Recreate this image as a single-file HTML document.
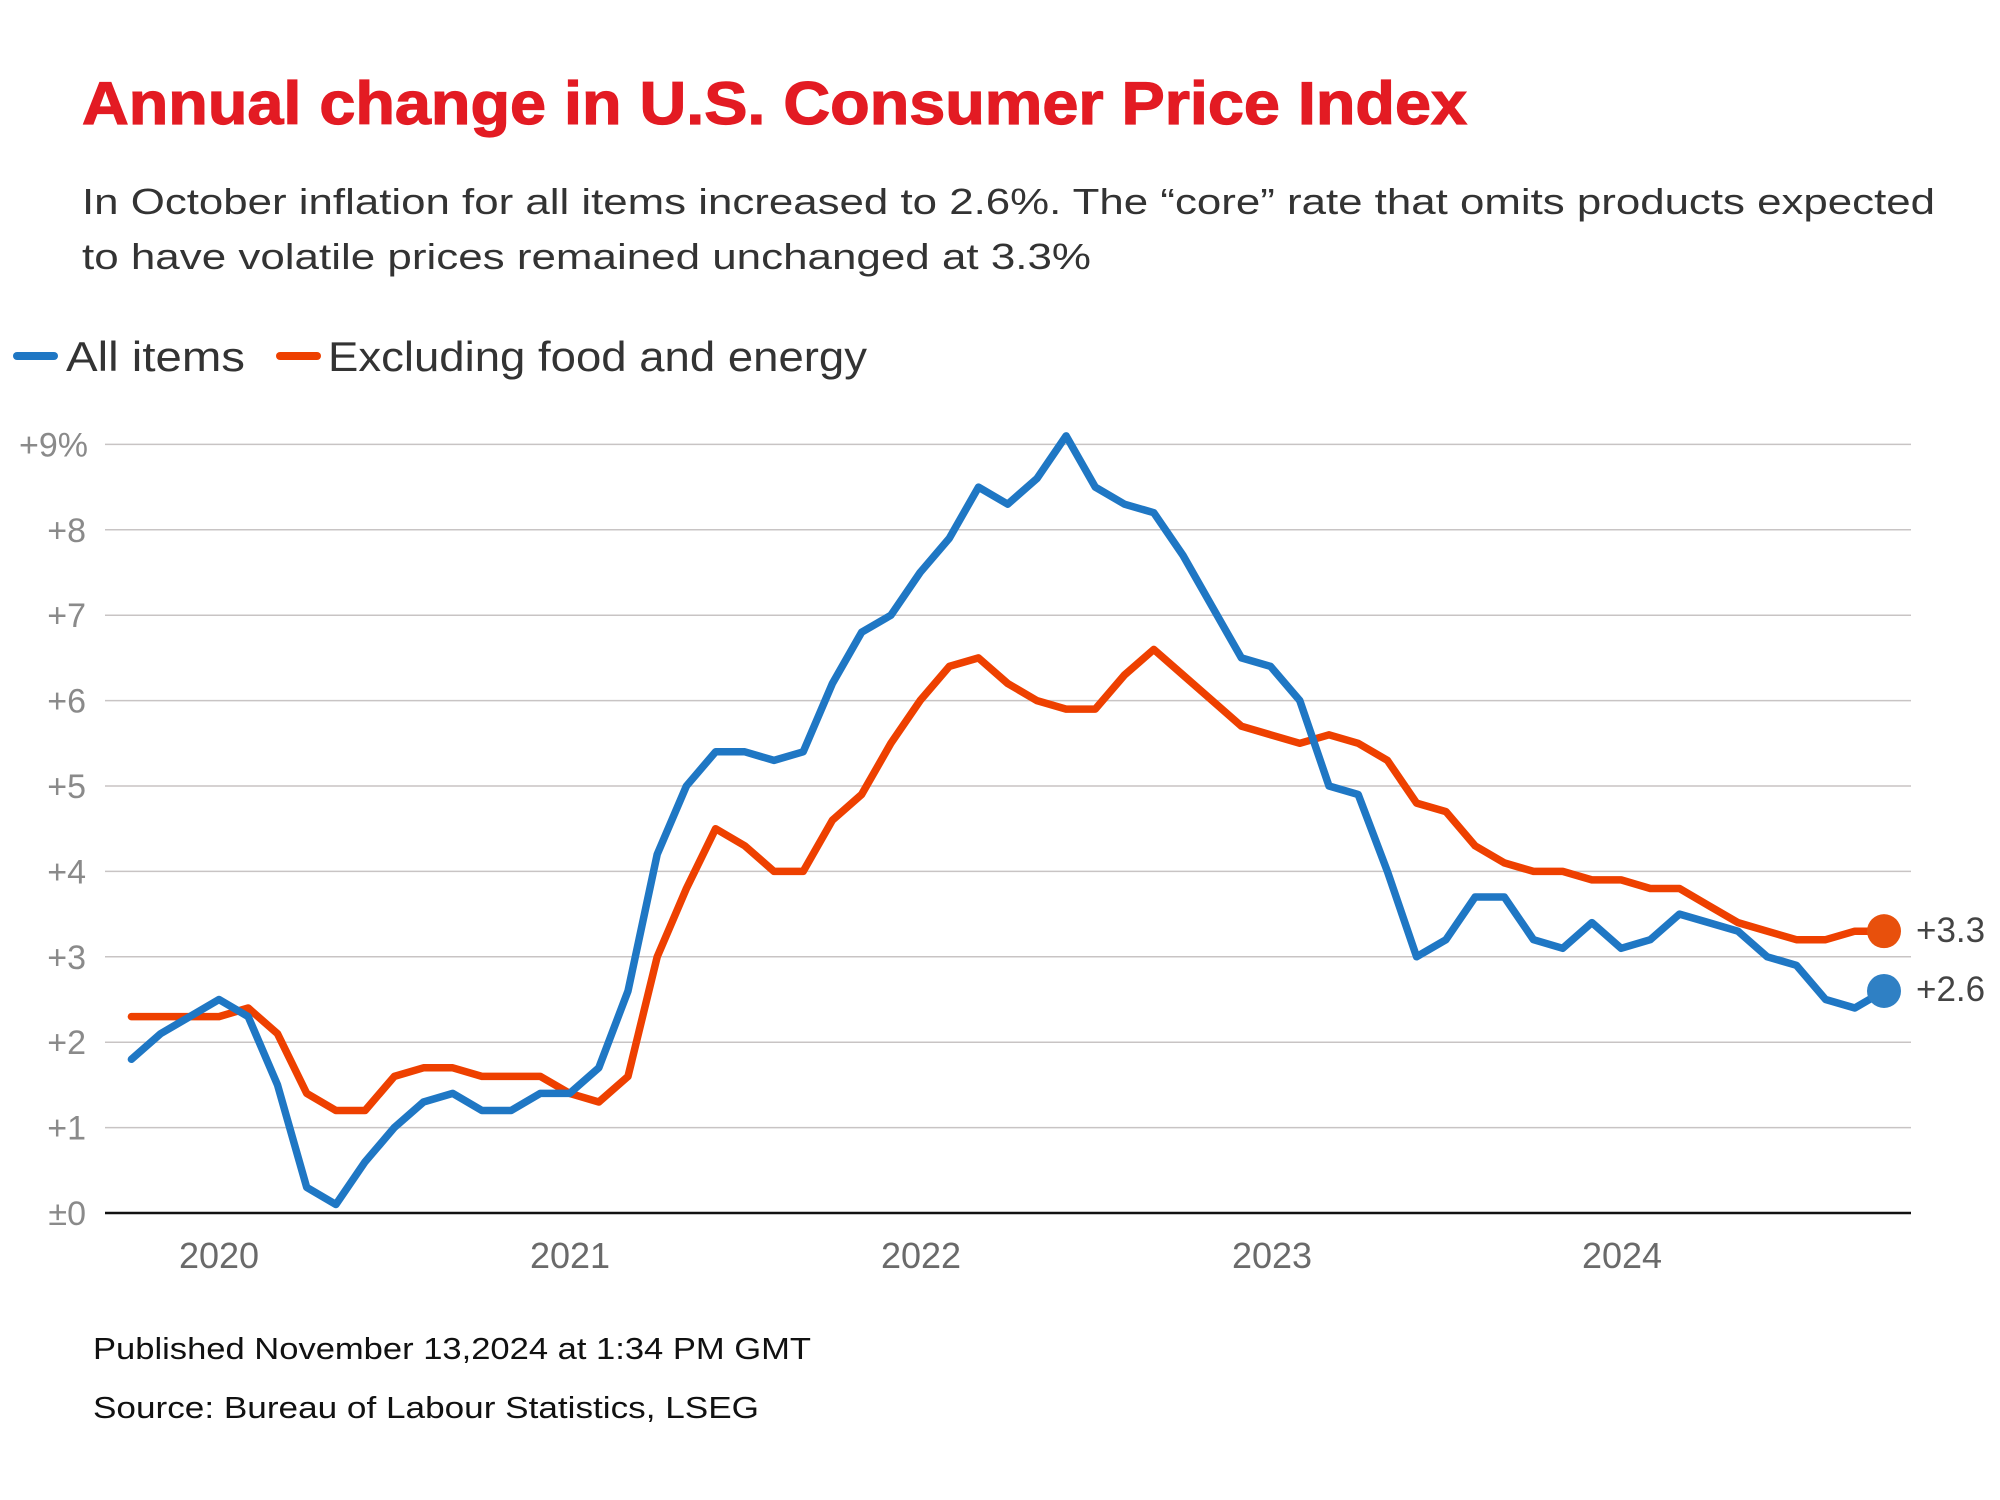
<!DOCTYPE html>
<html><head><meta charset="utf-8"><style>
html,body{margin:0;padding:0;background:#fff;width:2000px;height:1500px;overflow:hidden}
svg{display:block}
text{font-family:"Liberation Sans",sans-serif}
</style></head><body>
<svg id="s" width="2000" height="1500" viewBox="0 0 2000 1500" xmlns="http://www.w3.org/2000/svg">
<text x="82" y="124" font-size="60" font-weight="bold" fill="#e31b23" stroke="#e31b23" stroke-width="1.2" textLength="1385" lengthAdjust="spacingAndGlyphs">Annual change in U.S. Consumer Price Index</text>
<text x="82" y="214" font-size="36" fill="#333" textLength="1853" lengthAdjust="spacingAndGlyphs">In October inflation for all items increased to 2.6%. The “core” rate that omits products expected</text>
<text x="82" y="269" font-size="36" fill="#333" textLength="1009" lengthAdjust="spacingAndGlyphs">to have volatile prices remained unchanged at 3.3%</text>
<line x1="17" y1="356" x2="54" y2="356" stroke="#1f77c4" stroke-width="8" stroke-linecap="round"/>
<text x="66" y="371" font-size="42" fill="#333" textLength="179" lengthAdjust="spacingAndGlyphs">All items</text>
<line x1="280" y1="356" x2="317" y2="356" stroke="#ee4000" stroke-width="8" stroke-linecap="round"/>
<text x="328" y="371" font-size="42" fill="#333" textLength="539" lengthAdjust="spacingAndGlyphs">Excluding food and energy</text>
<g id="grid" stroke="#c8c4c4" stroke-width="1.5"></g>
<g id="yl" font-size="34" fill="#8a8a8a" text-anchor="end"></g>
<line x1="105" y1="1213" x2="1911" y2="1213" stroke="#111" stroke-width="2.5"/>
<g font-size="36" fill="#6a6a6a" text-anchor="middle">
<text x="219" y="1268">2020</text><text x="570" y="1268">2021</text><text x="921" y="1268">2022</text><text x="1272" y="1268">2023</text><text x="1622" y="1268">2024</text>
</g>
<polyline id="core" fill="none" stroke="#ee4000" stroke-width="7.5" stroke-linejoin="round" stroke-linecap="round"/>
<polyline id="all" fill="none" stroke="#1f77c4" stroke-width="7.5" stroke-linejoin="round" stroke-linecap="round"/>
<circle id="dc" r="17" fill="#e8500c"/>
<circle id="da" r="17" fill="#2f80c4"/>
<text x="1916" y="942" font-size="35" fill="#444">+3.3</text>
<text x="1916" y="1001" font-size="35" fill="#444">+2.6</text>
<text x="93" y="1359" font-size="31" fill="#111" textLength="718" lengthAdjust="spacingAndGlyphs">Published November 13,2024 at 1:34 PM GMT</text>
<text x="93" y="1418" font-size="31" fill="#111" textLength="666" lengthAdjust="spacingAndGlyphs">Source: Bureau of Labour Statistics, LSEG</text>
</svg>
<script>
var NS="http://www.w3.org/2000/svg";
function Y(v){return 1213-v*85.4}
function X(i){return 131.4+i*29.21}
var g=document.getElementById('grid'),yl=document.getElementById('yl');
var labs=['±0','+1','+2','+3','+4','+5','+6','+7','+8','+9%'];
for(var v=0;v<=9;v++){
 if(v>0){var l=document.createElementNS(NS,'line');l.setAttribute('x1',105);l.setAttribute('x2',1911);l.setAttribute('y1',Y(v));l.setAttribute('y2',Y(v));g.appendChild(l);}
 var t=document.createElementNS(NS,'text');t.setAttribute('x',v==9?88:86);t.setAttribute('y',Y(v)+12);t.textContent=labs[v];yl.appendChild(t);
}
var all=[1.8,2.1,2.3,2.5,2.3,1.5,0.3,0.1,0.6,1.0,1.3,1.4,1.2,1.2,1.4,1.4,1.7,2.6,4.2,5.0,5.4,5.4,5.3,5.4,6.2,6.8,7.0,7.5,7.9,8.5,8.3,8.6,9.1,8.5,8.3,8.2,7.7,7.1,6.5,6.4,6.0,5.0,4.9,4.0,3.0,3.2,3.7,3.7,3.2,3.1,3.4,3.1,3.2,3.5,3.4,3.3,3.0,2.9,2.5,2.4,2.6];
var core=[2.3,2.3,2.3,2.3,2.4,2.1,1.4,1.2,1.2,1.6,1.7,1.7,1.6,1.6,1.6,1.4,1.3,1.6,3.0,3.8,4.5,4.3,4.0,4.0,4.6,4.9,5.5,6.0,6.4,6.5,6.2,6.0,5.9,5.9,6.3,6.6,6.3,6.0,5.7,5.6,5.5,5.6,5.5,5.3,4.8,4.7,4.3,4.1,4.0,4.0,3.9,3.9,3.8,3.8,3.6,3.4,3.3,3.2,3.2,3.3,3.3];
function pts(a){return a.map(function(v,i){return X(i).toFixed(1)+','+Y(v).toFixed(1)}).join(' ')}
document.getElementById('all').setAttribute('points',pts(all));
document.getElementById('core').setAttribute('points',pts(core));
var dc=document.getElementById('dc'),da=document.getElementById('da');
dc.setAttribute('cx',X(60));dc.setAttribute('cy',Y(3.3));
da.setAttribute('cx',X(60));da.setAttribute('cy',Y(2.6));
</script>
</body></html>
